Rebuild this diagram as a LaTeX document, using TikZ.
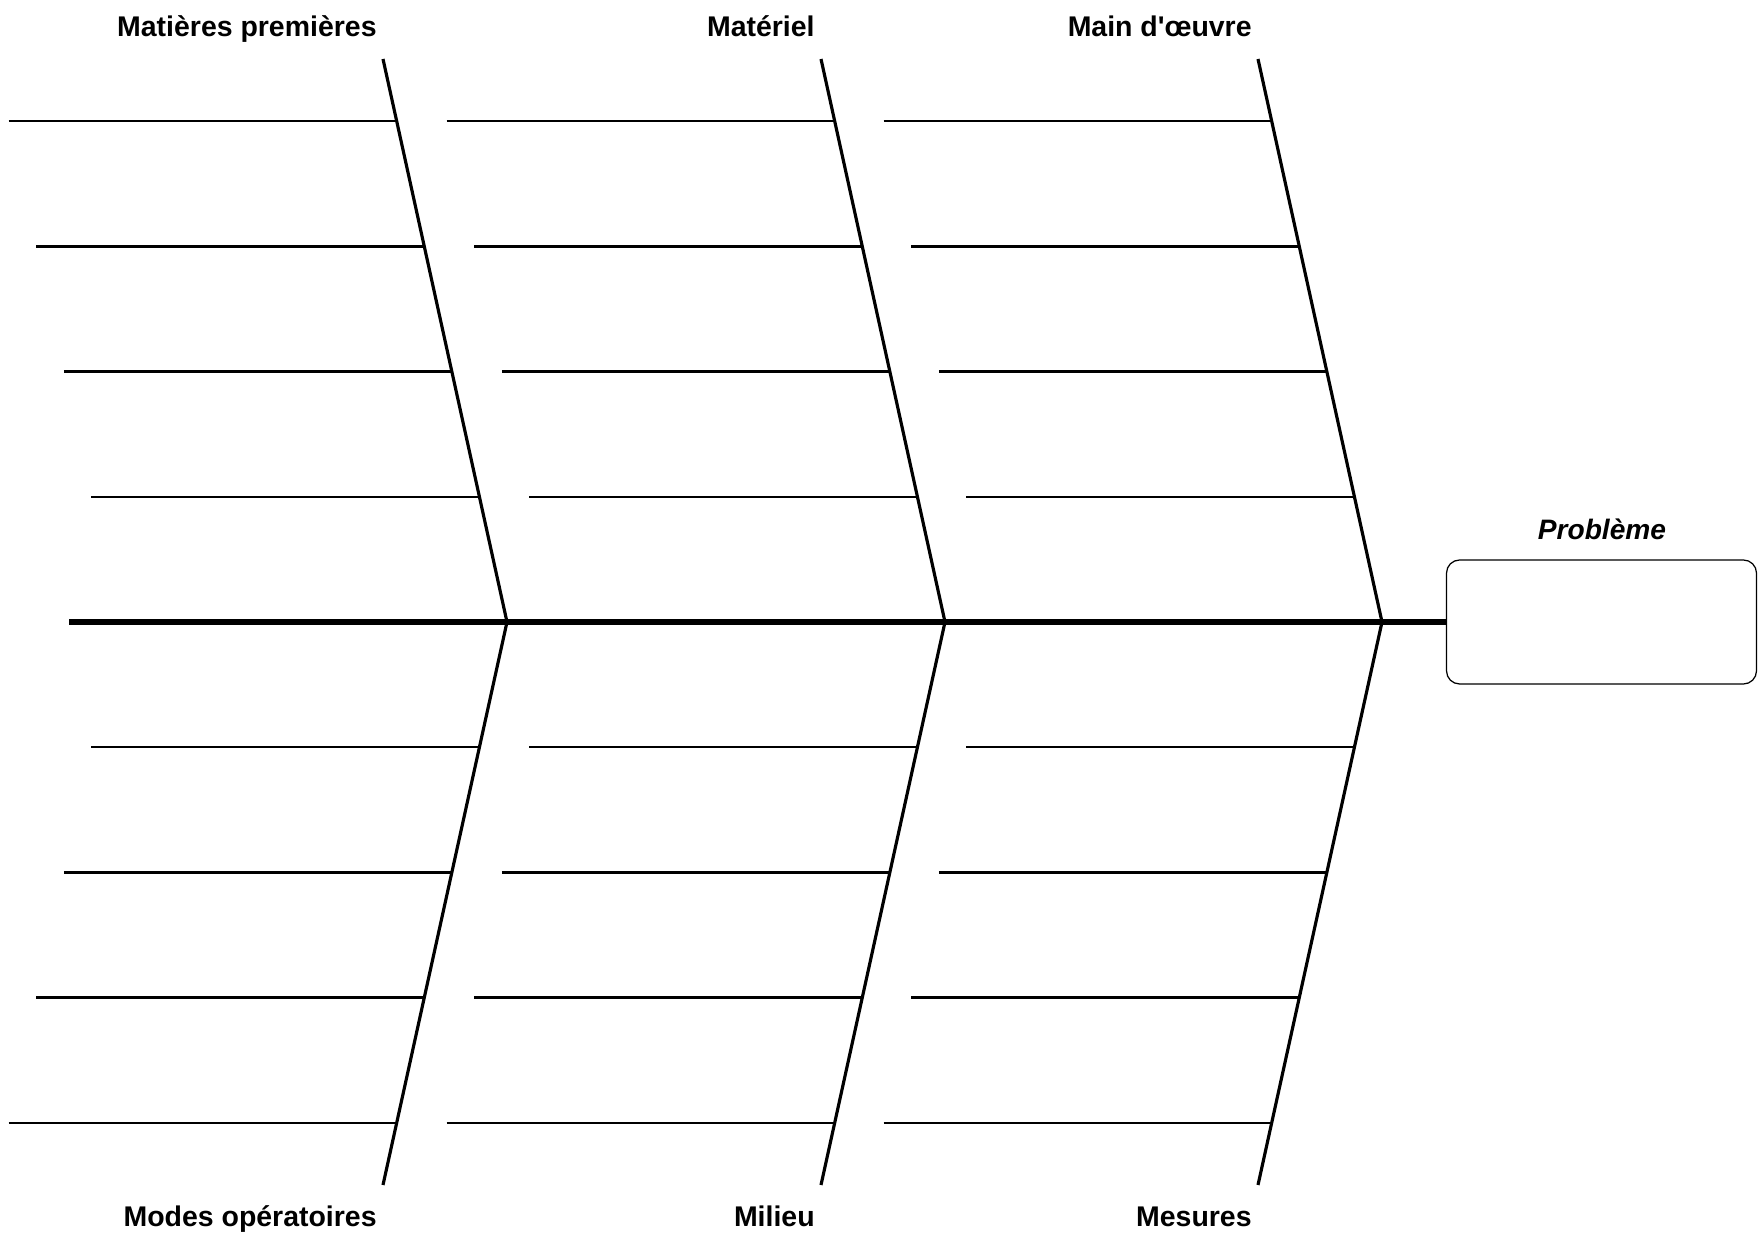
\documentclass[tikz,border=0pt]{standalone}
\usepackage{fontspec}
\setmainfont{Liberation Sans}
\usepackage{tikz}
\usetikzlibrary{calc, positioning}

\begin{document}
\begin{tikzpicture}[x=0.02cm, y=-0.02cm,
    arete/.style={line width=1.8pt},
    epine/.style={line width=1.5pt},
    titre/.style={font=\fontsize{16.2}{19}\selectfont\bfseries, inner sep=0pt, anchor=base east}]
    \useasboundingbox (0,0) rectangle (1759,1239);

    % Effet : le problème
    \node[draw, line width=0.7pt, rounded corners=0.26cm, minimum width=6.2cm, minimum height=2.48cm, inner sep=0pt] (probleme) at (1601.5,622) {};
    \node[font=\fontsize{16}{19}\selectfont\bfseries\itshape, inner sep=0pt, anchor=base] (titreprob) at (1602,540) {Problème};

    % Arête principale
    \coordinate (queue) at (69,622);
    \draw[line width=2.9pt] (queue) -- (probleme.west);

    % Les 6 M
    \foreach \i/\x/\haut/\bas in {1/507/Matières premières/Modes opératoires,
                                  2/945/Matériel/Milieu,
                                  3/1382/Main d\textquotesingle œuvre/Mesures} {
        \coordinate (j\i) at (\x,622);
        \coordinate (h\i) at (\x-124,59);
        \coordinate (b\i) at (\x-124,1185);
        \draw[arete] (h\i) -- (j\i) -- (b\i);
        \node[titre] (cause\i) at ($(h\i)+(-6,-22)$) {\haut};
        \node[titre] (causebas\i) at ($(b\i)+(-6,41)$) {\bas};
        % sous-causes du haut
        \foreach \k/\t in {1/0.1101, 2/0.3327, 3/0.5553, 4/0.7780} {
            \coordinate (rh\i\k) at ($(h\i)!\t!(j\i)$);
            \coordinate (gh\i\k) at ($(rh\i\k)+(-388,0)$);
            \draw[epine] (gh\i\k) -- (rh\i\k);
        }
        % sous-causes du bas
        \foreach \k/\t in {1/0.2220, 2/0.4447, 3/0.6673, 4/0.8899} {
            \coordinate (rb\i\k) at ($(j\i)!\t!(b\i)$);
            \coordinate (gb\i\k) at ($(rb\i\k)+(-388,0)$);
            \draw[epine] (gb\i\k) -- (rb\i\k);
        }
    }
\end{tikzpicture}
\end{document}
